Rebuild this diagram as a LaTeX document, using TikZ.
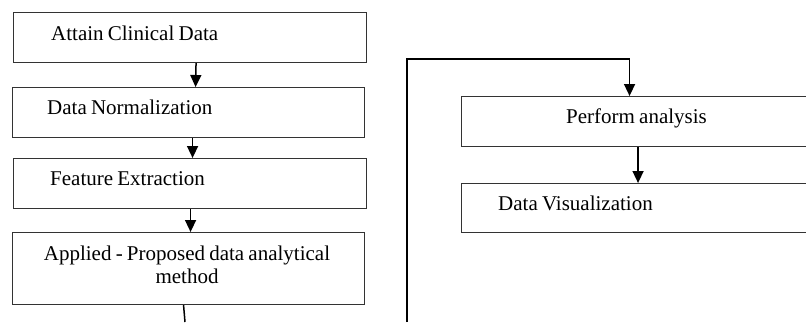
\documentclass[tikz,border=0pt]{standalone}
\usepackage{fontspec}
\setmainfont[WordSpace=0.8]{Liberation Serif}
\usetikzlibrary{arrows.meta}
\begin{document}
\begin{tikzpicture}[x=1pt,y=-1pt,
  box/.style={draw=black!80, line width=1.1pt, rectangle, inner sep=0pt,
    minimum height=50pt, anchor=north west},
  lbl/.style={inner sep=0pt, font=\fontsize{21}{23.5}\selectfont},
  link/.style={draw=black, line width=1.5pt},
  conn/.style={link, -{Triangle[length=12pt,width=11pt]}}]
\useasboundingbox (0,0) rectangle (806,322);
\clip (0,0) rectangle (806,322);
% boxes
\node[box, minimum width=353pt] (b1) at (13,12) {};
\node[box, minimum width=352pt] (b2) at (12,87) {};
\node[box, minimum width=353pt] (b3) at (13,158) {};
\node[box, minimum width=352pt, minimum height=72pt] (b4) at (12,232) {};
\node[box, minimum width=351pt] (b5) at (461,96) {};
\node[box, minimum width=351pt, minimum height=49pt] (b6) at (461,183) {};
% texts
\node[lbl, anchor=base west] (t1) at (51,40) {Attain Clinical Data};
\node[lbl, anchor=base west] (t2) at (47,114.5) {Data Normalization};
\node[lbl, anchor=base west] (t3) at (50,185) {Feature Extraction};
\node[lbl, anchor=base] (t4a) at (187,260) {Applied - Proposed data analytical};
\node[lbl, anchor=base] (t4b) at (187,283.5) {method};
\node[lbl, anchor=base] (t5) at (636.5,123.3) {Perform analysis};
\node[lbl, anchor=base west] (t6) at (498,210) {Data Visualization};
% connectors
\draw[conn] ([xshift=6pt]b1.south) -- ([xshift=7pt]b2.north);
\draw[conn] ([xshift=4pt]b2.south) -- ([xshift=2.5pt]b3.north);
\draw[conn] ([xshift=0.5pt]b3.south) -- ([xshift=2pt]b4.north);
\coordinate (lb) at (185,322);
\draw[link] ([xshift=-5pt]b4.south) -- (lb);
\coordinate (rb) at (407,322);
\coordinate (rc) at (407,59);
\draw[conn] (rb) -- (rc) -| ([xshift=-7.5pt]b5.north);
\draw[conn] ([xshift=1pt]b5.south) -- ([xshift=1pt]b6.north);
\end{tikzpicture}
\end{document}
